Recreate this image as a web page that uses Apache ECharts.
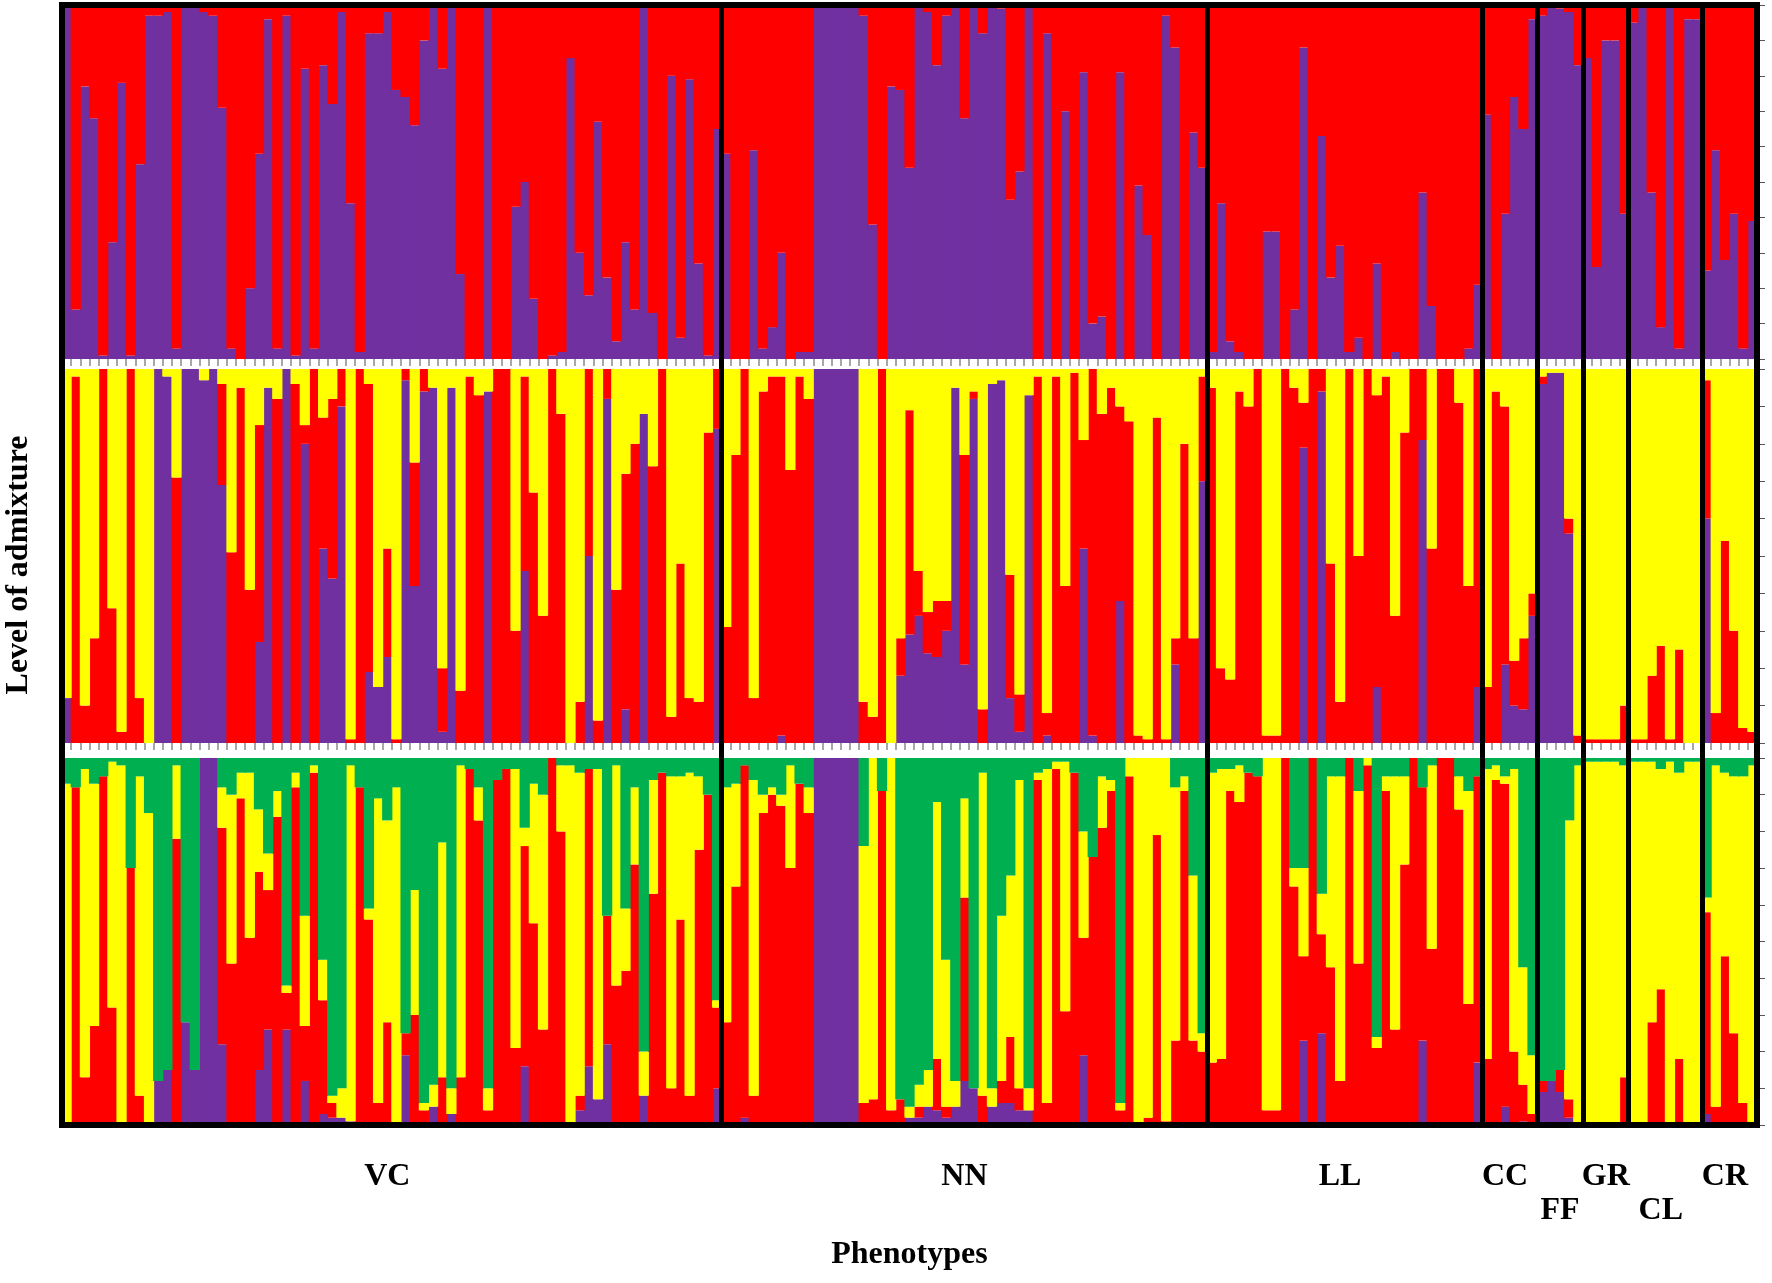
<!DOCTYPE html>
<html>
<head>
<meta charset="utf-8">
<title>Level of admixture by phenotype</title>
<script src="https://cdn.jsdelivr.net/npm/echarts@6/dist/echarts.min.js"></script>
<style>
  html, body { margin: 0; padding: 0; background: #fff; }
  #main { width: 1772px; height: 1283px; }
</style>
</head>
<body>
<div id="main"></div>
<script>
// phenotype groups, in plotting order
var groupNames = ['VC', 'NN', 'LL', 'CC', 'FF', 'GR', 'CL', 'CR'];
var groupSizes = [72, 53, 30, 6, 5, 5, 8, 6];

// K = 2 : purple share (%) per individual, red is the rest
var k2Purple = [
  // VC
  100,14,77,68,1,33,78,1,55,97,97,98,3,100,100,98,97,71,3,0,20,58,96,3,97,1,82,3,83,72,98,44,2,92,92,98,76,
  74,66,90,100,82,100,24,0,0,100,0,0,43,50,17,0,1,2,85,30,18,67,23,5,33,14,100,13,0,80,6,79,27,1,65,
  // NN
  58,0,0,59,3,9,30,0,2,2,100,100,100,100,100,97,38,0,77,76,54,100,98,83,97,100,68,100,
  92,100,99,45,53,100,0,92,0,70,0,81,10,12,0,81,0,49,35,0,97,88,0,64,54,
  // LL
  2,44,5,2,0,0,36,36,0,14,88,0,63,23,32,2,6,0,27,0,2,0,0,47,15,0,0,0,3,21,
  // CC
  69,0,41,74,65,96,
  // FF
  97,100,99,98,83,
  // GR
  85,26,90,90,41,
  // CL
  95,100,47,9,100,3,96,96,
  // CR
  25,59,28,41,3,39
];

// K = 3 : purple and red shares (%), yellow is the rest
var k3Purple = [
  12,0,0,0,0,0,0,0,0,0,100,98,0,100,100,97,100,69,0,0,0,27,95,0,100,0,80,0,52,44,90,0,0,19,15,23,0,
  97,42,94,95,3,95,0,0,0,94,0,0,0,46,0,0,0,0,0,0,50,0,92,0,9,0,88,0,0,0,0,0,0,0,84,
  0,0,0,0,0,0,2,0,0,0,100,100,100,100,100,0,0,0,0,18,29,34,24,23,30,95,21,92,
  0,96,97,12,3,93,0,2,0,0,0,52,2,0,0,38,0,0,0,0,0,21,0,0,70,
  0,0,0,0,0,0,0,0,0,0,79,0,94,0,0,0,0,0,15,0,0,0,0,81,0,0,0,0,0,15,
  0,0,21,10,9,34,
  96,99,99,56,0,
  0,0,0,0,0,
  0,0,0,0,0,0,0,0,
  60,0,0,0,0,0
];
var k3Red = [
  0,98,10,28,100,36,3,100,12,0,0,0,71,0,0,0,0,27,51,95,41,58,0,92,0,96,5,100,35,48,10,1,100,77,0,29,1,
  3,33,6,0,17,0,14,98,93,0,100,100,30,52,67,34,100,88,0,11,50,6,8,41,63,80,0,74,100,7,48,12,11,83,16,
  31,77,100,12,94,98,96,73,98,92,0,0,0,0,0,11,7,100,0,10,60,12,11,15,8,0,56,2,
  9,0,0,33,10,0,98,6,98,42,99,29,98,88,95,52,86,2,1,87,1,7,80,28,28,
  95,20,17,94,90,100,2,2,100,95,12,100,6,48,11,100,50,100,78,98,34,83,100,19,52,100,100,91,42,85,
  15,94,69,12,19,6,
  2,0,0,4,2,
  1,1,1,1,10,
  1,1,18,26,1,25,0,0,
  37,8,54,30,4,3
];

// K = 4 : purple, red and yellow shares (%), green is the rest
var k4Purple = [
  0,0,0,0,0,0,0,0,0,0,12,15,0,28,15,100,100,22,0,0,0,15,26,0,26,0,12,0,3,2,2,1,0,0,0,0,0,
  19,0,0,5,0,3,0,0,0,0,0,0,0,16,0,0,0,0,0,4,16,7,22,0,0,0,8,0,0,0,0,0,0,0,10,
  0,0,2,0,0,0,0,0,0,0,100,100,100,100,100,0,0,0,0,0,2,2,5,4,2,5,12,10,
  0,5,6,6,4,4,0,0,0,0,0,19,0,0,0,0,0,0,0,0,0,0,0,0,0,
  0,0,0,0,0,0,0,0,0,0,23,0,25,0,0,0,0,0,0,0,0,0,0,23,0,0,0,0,0,17,
  0,0,5,0,1,0,
  9,12,9,2,0,
  0,0,0,0,0,
  0,0,0,0,0,0,0,0,
  3,0,0,0,0,0
];
var k4Red = [
  0,92,13,27,95,32,0,70,8,0,0,0,78,0,0,0,0,59,44,89,51,54,38,84,10,92,15,96,31,4,0,0,92,56,6,28,0,
  6,30,4,0,13,0,13,97,83,4,94,97,21,60,55,26,100,80,0,4,81,0,35,38,42,71,0,63,96,10,56,8,75,90,22,
  28,65,96,8,85,90,87,70,93,85,0,0,0,0,0,6,7,91,4,7,0,3,0,14,3,0,50,0,
  8,0,6,18,6,0,94,6,97,31,96,32,73,81,91,4,95,0,2,79,1,23,91,23,20,
  17,18,91,88,96,95,4,4,100,65,23,100,27,43,12,100,44,98,21,91,26,71,100,69,48,100,100,86,33,78,
  18,94,88,20,10,3,
  3,0,6,5,0,
  0,0,0,0,13,
  0,0,28,37,0,18,0,0,
  55,5,46,25,6,0
];
var k4Yellow = [
  93,0,84,66,0,67,98,0,87,85,0,0,20,0,0,0,0,11,46,7,45,17,10,7,2,4,30,2,11,2,8,97,0,3,83,55,92,
  0,34,2,6,64,7,85,0,9,6,0,0,76,5,38,64,0,18,98,88,0,90,0,60,17,21,12,31,0,85,39,88,20,0,2,
  64,28,0,86,5,2,3,28,0,7,0,0,0,0,0,70,93,0,96,0,3,6,10,70,40,7,27,0,
  88,5,45,44,84,6,2,91,2,68,0,29,0,14,3,2,5,100,98,21,99,69,4,45,5,
  79,79,6,10,0,0,96,96,0,5,24,0,11,52,83,0,47,2,3,4,69,24,0,0,50,0,0,9,58,0,
  79,4,2,77,32,16,
  0,0,0,76,98,
  99,99,99,99,85,
  99,99,71,60,99,78,99,99,
  4,93,50,70,89,98
];

var PURPLE = '#7030A0', RED = '#FF0000', YELLOW = '#FFFF00', GREEN = '#00B050';
var serif = "'Liberation Serif', 'Times New Roman', serif";

function rest() {
  var parts = arguments;
  return parts[0].map(function (v, i) {
    var s = 0;
    for (var k = 0; k < parts.length; k++) s += parts[k][i];
    return Math.max(0, 100 - s);
  });
}

var total = groupSizes.reduce(function (a, b) { return a + b; }, 0);
var individuals = [];
for (var i = 1; i <= total; i++) individuals.push('S' + i);

// group boundaries and label slots
var groupStart = [], acc = 0;
groupSizes.forEach(function (n) { groupStart.push(acc); acc += n; });
var boundaries = groupStart.slice(1);
var labelAt = {};
groupSizes.forEach(function (n, g) { labelAt[groupStart[g] + Math.floor((n - 1) / 2)] = g; });
// narrow groups alternate between two label rows
var lowered = [], narrowCount = 0;
groupSizes.forEach(function (n) {
  var narrow = n < 10;
  lowered.push(narrow && narrowCount % 2 === 1);
  if (narrow) narrowCount++;
});

function stackSeries(panel, parts) {
  return parts.map(function (p) {
    return {
      name: p.name,
      type: 'bar',
      stack: 'k' + panel,
      xAxisIndex: panel,
      yAxisIndex: panel,
      // slightly wider than the band so neighbouring bars leave no seam
      barWidth: '112%',
      data: p.data,
      itemStyle: { color: p.color },
      emphasis: { disabled: true }
    };
  });
}

function panelX(index, showTicks) {
  return {
    type: 'category',
    gridIndex: index,
    data: individuals,
    boundaryGap: true,
    axisLine: { show: false },
    axisTick: { show: showTicks, interval: 0, length: 7, lineStyle: { color: '#8a8a8a', width: 1.5 } },
    axisLabel: { show: false },
    splitLine: { show: false }
  };
}

function panelY(index) {
  return {
    type: 'value',
    gridIndex: index,
    position: 'right',
    min: 0,
    max: 100,
    interval: 10,
    axisLine: { show: false },
    axisTick: { show: true, length: 8, lineStyle: { color: '#555', width: 1 } },
    axisLabel: { show: false },
    splitLine: { show: false }
  };
}

var bottomX = panelX(2, false);
bottomX.axisLabel = {
  show: true,
  interval: function (index) { return labelAt[index] !== undefined; },
  formatter: function (value, index) {
    var g = labelAt[index];
    if (g === undefined) return '';
    return lowered[g] ? '\n' + groupNames[g] : groupNames[g];
  },
  margin: 35,
  fontFamily: serif,
  fontWeight: 'bold',
  fontSize: 32,
  lineHeight: 34,
  color: '#000'
};

var myChart = echarts.init(document.getElementById('main'), null, { renderer: 'canvas' });

myChart.setOption({
  animation: false,
  backgroundColor: '#fff',
  grid: [
    { left: 62, right: 15, top: 5, height: 354, outerBoundsMode: 'none' },
    { left: 62, right: 15, top: 369, height: 374, outerBoundsMode: 'none' },
    { left: 62, right: 15, top: 758, height: 367, outerBoundsMode: 'none' },
    // frame around the three panels, drawn above the bars
    {
      left: 62, right: 15, top: 5, height: 1120,
      outerBoundsMode: 'none',
      show: true, z: 10,
      backgroundColor: 'rgba(0,0,0,0)',
      borderColor: '#000', borderWidth: 6
    }
  ],
  xAxis: [
    panelX(0, true),
    panelX(1, true),
    bottomX,
    {
      type: 'category',
      gridIndex: 3,
      data: individuals,
      boundaryGap: true,
      z: 10,
      axisLine: { show: false },
      axisTick: { show: false },
      axisLabel: { show: false },
      splitLine: {
        show: true,
        interval: function (index) { return boundaries.indexOf(index) >= 0; },
        lineStyle: { color: '#000', width: 5 }
      },
      name: 'Phenotypes',
      nameLocation: 'middle',
      nameGap: 114,
      nameTextStyle: { fontFamily: serif, fontWeight: 'bold', fontSize: 32, color: '#000' }
    }
  ],
  yAxis: [
    panelY(0),
    panelY(1),
    panelY(2),
    {
      type: 'value',
      gridIndex: 3,
      position: 'left',
      min: 0,
      max: 1,
      z: 10,
      axisLine: { show: false },
      axisTick: { show: false },
      axisLabel: { show: false },
      splitLine: { show: false },
      name: 'Level of admixture',
      nameLocation: 'middle',
      nameGap: 27,
      nameTextStyle: { fontFamily: serif, fontWeight: 'bold', fontSize: 32, color: '#000' }
    }
  ],
  series: [].concat(
    stackSeries(0, [
      { name: 'K2 purple', color: PURPLE, data: k2Purple },
      { name: 'K2 red', color: RED, data: rest(k2Purple) }
    ]),
    stackSeries(1, [
      { name: 'K3 purple', color: PURPLE, data: k3Purple },
      { name: 'K3 red', color: RED, data: k3Red },
      { name: 'K3 yellow', color: YELLOW, data: rest(k3Purple, k3Red) }
    ]),
    stackSeries(2, [
      { name: 'K4 purple', color: PURPLE, data: k4Purple },
      { name: 'K4 red', color: RED, data: k4Red },
      { name: 'K4 yellow', color: YELLOW, data: k4Yellow },
      { name: 'K4 green', color: GREEN, data: rest(k4Purple, k4Red, k4Yellow) }
    ])
  )
});

window.addEventListener('resize', function () {
  myChart.resize();
});
</script>
</body>
</html>
